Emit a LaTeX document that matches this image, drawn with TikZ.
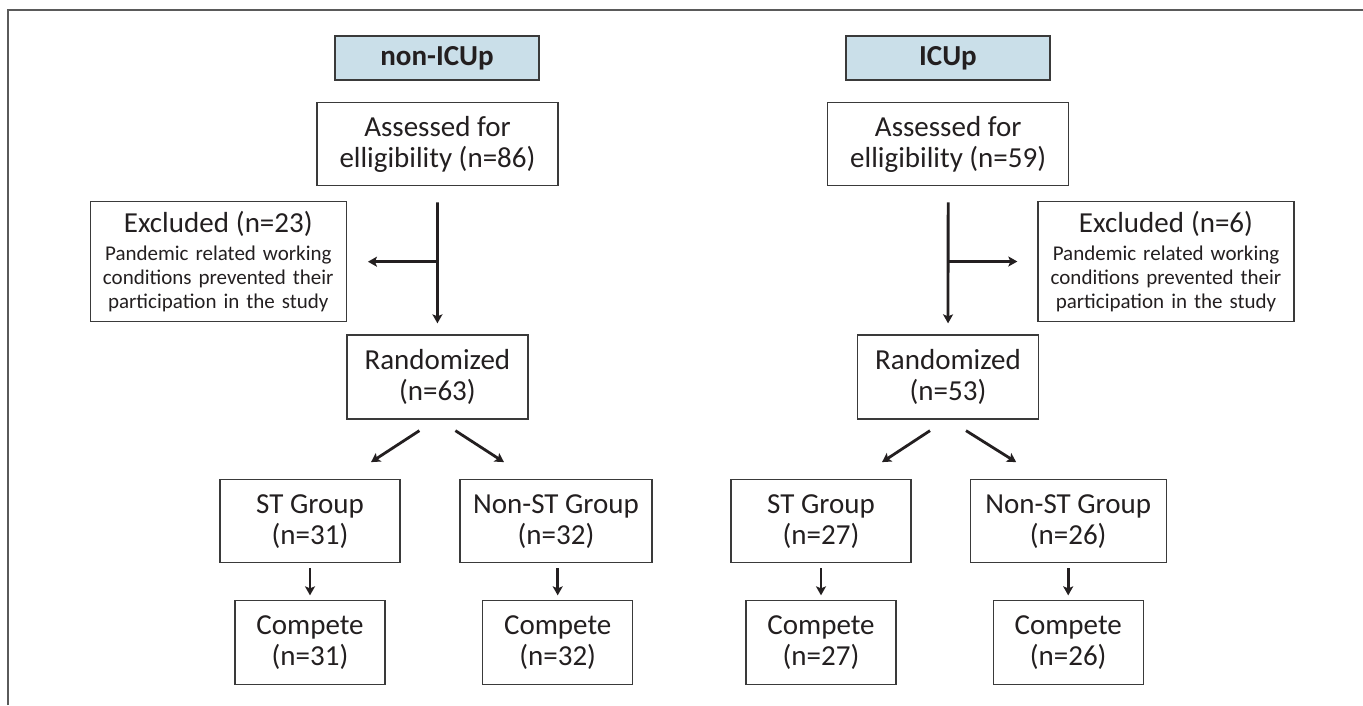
\documentclass[tikz,border=0pt]{standalone}
\usepackage{fontspec}
\setmainfont{Carlito}
\usetikzlibrary{arrows.meta,calc}
\definecolor{inkc}{HTML}{231F20}
\definecolor{linec}{HTML}{3A3A3A}
\definecolor{headfill}{HTML}{CADFE9}
\definecolor{framec}{HTML}{5A5A5A}
\tikzset{
  box/.style={draw=linec, line width=1.3pt, inner sep=0pt, align=center,
    text=inkc, font=\fontsize{29}{31}\selectfont},
  headbox/.style={box, fill=headfill, minimum width=204pt, minimum height=44pt,
    font=\fontsize{29}{32}\selectfont\bfseries},
  exbox/.style={box, minimum width=256pt, minimum height=120pt, text width=250pt,
    font=\fontsize{21}{24}\selectfont},
  arr/.style={draw=inkc, line width=2.8pt,
    -{Stealth[length=9pt,width=10pt,inset=2pt]}},
}
\begin{document}
\begin{tikzpicture}[x=1pt,y=-1pt]
\useasboundingbox (0,0) rectangle (1363,705);
% outer frame (left and top edges)
\draw[framec, line width=2pt] (7.5,705) -- (7.5,9.5) -- (1363,9.5);

% ---------- left arm ----------
\node[headbox] (hL) at (437,58) {non-ICUp};
\node[box, minimum width=241pt, minimum height=83pt] (LA) at (437.5,144.2)
  {Assessed for\\elligibility (n=86)};
\node[exbox] (LE) at (218.3,261.7)
  {{\fontsize{29}{28}\selectfont Excluded (n=23)\par}\vspace{4pt}
   Pandemic related working\\conditions prevented their\\participation in the study};
\node[box, minimum width=181pt, minimum height=84pt] (LR) at (437.4,377)
  {Randomized\\(n=63)};
\node[box, minimum width=180pt, minimum height=83pt] (LST) at (310,521.3)
  {ST Group\\(n=31)};
\node[box, minimum width=192pt, minimum height=83pt] (LNST) at (556,521.3)
  {Non-ST Group\\(n=32)};
\node[box, minimum width=150pt, minimum height=84pt] (LC1) at (310,642.5)
  {Compete\\(n=31)};
\node[box, minimum width=150pt, minimum height=84pt] (LC2) at (557.7,642.5)
  {Compete\\(n=32)};

% ---------- right arm ----------
\node[headbox] (hR) at (948,58) {ICUp};
\node[box, minimum width=241pt, minimum height=83pt] (RA) at (948.2,144.2)
  {Assessed for\\elligibility (n=59)};
\node[exbox] (RE) at (1166,261.5)
  {{\fontsize{29}{28}\selectfont Excluded (n=6)\par}\vspace{4pt}
   Pandemic related working\\conditions prevented their\\participation in the study};
\node[box, minimum width=181pt, minimum height=84pt] (RR) at (948,377)
  {Randomized\\(n=53)};
\node[box, minimum width=180pt, minimum height=83pt] (RST) at (821,521.3)
  {ST Group\\(n=27)};
\node[box, minimum width=196pt, minimum height=83pt] (RNST) at (1068.2,521.3)
  {Non-ST Group\\(n=26)};
\node[box, minimum width=150pt, minimum height=84pt] (RC1) at (821,642.5)
  {Compete\\(n=27)};
\node[box, minimum width=150pt, minimum height=84pt] (RC2) at (1068.2,642.5)
  {Compete\\(n=26)};

% ---------- connectors ----------
\foreach \asm/\rnd/\st/\nst/\ca/\cb in {LA/LR/LST/LNST/LC1/LC2, RA/RR/RST/RNST/RC1/RC2}{
  % trunk from assessment to randomisation
  \draw[arr, shorten <=16pt, shorten >=11pt] (\asm) -- (\rnd);
  % split towards the two groups
  \coordinate (\rnd-a) at ($(\rnd.south)+(-18,11)$);
  \coordinate (\rnd-b) at ($(\st.north)+(61,-17)$);
  \coordinate (\rnd-c) at ($(\rnd.south)+(18,11)$);
  \coordinate (\rnd-d) at ($(\nst.north)+(-52,-17)$);
  \draw[arr] (\rnd-a) -- (\rnd-b);
  \draw[arr] (\rnd-c) -- (\rnd-d);
  % group to completion
  \draw[arr, shorten <=5pt, shorten >=4.5pt] (\st) -- (\ca);
  \draw[arr, shorten <=5pt, shorten >=4.5pt] (\nst.south -| \cb.center) -- (\cb);
}
% side branches to the exclusion boxes
\draw[arr, shorten >=21pt] (LA.south |- LE.east) -- (LE.east);
\draw[arr, shorten >=20pt] (RA.south |- RE.west) -- (RE.west);
\end{tikzpicture}
\end{document}
